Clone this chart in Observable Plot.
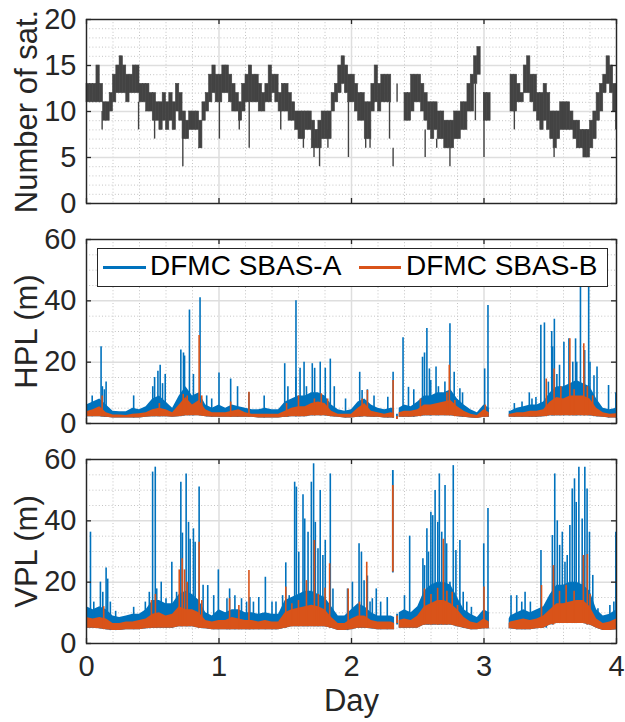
<!DOCTYPE html>
<html>
<head>
<meta charset="utf-8">
<script src="https://cdn.jsdelivr.net/npm/d3@7"></script>
<script src="https://cdn.jsdelivr.net/npm/@observablehq/plot@0.6"></script>
<style>
  body { margin: 0; background: #fff; }
  #chart { position: relative; width: 625px; height: 722px; font-family: "Liberation Sans", Arial, sans-serif; }
  #chart svg { display: block; }
  .legend { position: absolute; left: 97px; top: 248px; width: 511px; height: 39px; box-sizing: border-box;
            border: 1.5px solid #262626; background: #fff; }
  .legend .ln { position: absolute; top: 17px; height: 2.5px; }
  .legend .lt { position: absolute; top: -1px; line-height: 36px; font-size: 28px; color: #000; white-space: nowrap; }
</style>
</head>
<body>
<div id="chart"></div>
<script>
// ---------------- DATA ----------------
const xTickLabels = [0, 1, 2, 3, 4];
const satTicks = [0, 5, 10, 15, 20];
const plTicks = [0, 20, 40, 60];
const seriesNames = ["DFMC SBAS-A", "DFMC SBAS-B"];

// Number of satellites: band (low/high) per 0.025-day bin
const satBinWidth = 0.025;
const satHigh = [
  13,13,13,15,13,11,11,12,14,15,
  16,15,14,14,15,15,13,13,13,12,
  12,11,11,12,11,12,11,13,12,10,
  9,10,10,10,9,11,12,14,15,14,
  14,15,15,14,13,12,11,13,14,15,
  14,14,13,12,13,15,14,14,12,13,
  13,12,11,10,10,10,10,10,9,8,
  9,10,10,10,12,13,15,16,15,14,
  14,13,12,12,11,11,13,15,13,14,
  14,14,null,null,null,null,12,12,14,14,
  14,13,12,11,11,11,10,10,9,9,
  9,10,10,11,11,13,14,16,17,null,
  12,12,null,null,null,null,null,null,14,14,
  13,12,15,16,14,14,12,12,13,12,
  10,10,10,11,11,11,10,9,9,8,
  8,8,9,10,12,13,14,16,15,13
];
const satLow = [
  11,11,11,11,11,9,9,10,11,12,
  12,12,11,12,12,12,11,11,10,10,
  9,9,8,9,8,9,8,10,9,7,
  7,8,8,8,6,9,10,11,12,11,
  11,12,12,11,10,10,9,10,11,11,
  11,11,10,10,11,11,12,11,10,10,
  10,9,9,8,7,7,8,8,6,6,
  6,7,7,7,10,11,12,13,12,11,
  11,10,9,9,7,7,10,11,10,11,
  11,11,null,null,null,null,9,9,10,11,
  11,10,9,8,7,8,7,7,6,6,
  6,7,7,8,8,10,10,13,14,null,
  9,9,null,null,null,null,null,null,10,10,
  11,11,12,12,11,10,9,8,9,8,
  7,6,7,8,8,8,8,7,6,6,
  5,5,6,7,9,10,12,13,12,10
];
// thin excursions: [day, from, to]
const satSpikes = [
  [0.118,8,10],[0.256,14,16],[0.393,8,11],[0.514,7,9],[0.727,4,8],[0.857,6,8],
  [1.003,7,11],[1.153,8,10],[1.228,6,11],[1.466,8,10],[1.637,6,8],[1.717,5,7],
  [1.759,4,7],[1.822,6,8],[1.977,5,11],[2.107,6,8],[2.14,6,8],[2.287,7,11],
  [2.314,4,6],[2.344,11,13],[2.556,5,8],[2.643,6,7],[2.743,4,6],[2.935,9,13],
  [3.0,5,12],[3.229,8,10],[3.529,5,6],[3.995,8,10]
];

// Protection levels: dense band sampled on these days (null = data gap)
const bandDays = [
  0,0.05,0.1,0.15,0.2,0.25,0.3,0.35,0.4,0.45,
  0.5,0.55,0.6,0.65,0.7,0.75,0.8,0.85,0.9,0.95,
  1,1.05,1.1,1.15,1.2,1.25,1.3,1.35,1.4,1.45,
  1.5,1.55,1.6,1.65,1.7,1.75,1.8,1.85,1.9,1.95,
  2,2.05,2.1,2.15,2.2,2.25,2.3,2.325,2.33,2.36,
  2.4,2.45,2.5,2.55,2.6,2.65,2.7,2.75,2.8,2.85,
  2.9,2.95,3,3.04,3.045,3.19,3.2,3.25,3.3,3.35,
  3.4,3.45,3.5,3.55,3.6,3.65,3.7,3.75,3.8,3.85,
  3.9,3.95,4
];
const hplLow = [
  2.2,2.2,2.2,2.0,1.8,1.8,1.8,1.8,1.8,2.0,
  2.2,2.2,2.2,2.0,2.2,2.5,2.5,2.5,2.2,2.0,
  2.0,2.0,2.0,2.0,2.0,2.0,1.8,1.8,1.8,1.8,
  2.0,2.2,2.2,2.2,2.5,2.5,2.5,2.2,2.0,1.8,
  1.8,2.0,2.2,2.0,2.0,1.8,1.8,1.8,null,2.0,
  2.0,2.0,2.2,2.5,2.5,2.5,2.5,2.5,2.2,2.0,
  1.8,1.6,2.0,2.0,null,2.0,2.0,2.0,2.0,2.0,
  2.0,2.2,2.5,2.5,2.5,2.5,2.5,2.5,2.5,2.2,
  2.0,1.8,1.8
];
const hplHighA = [
  6,7,8,6,4,3.8,3.8,5,4.5,5.5,
  8,9,7,5,9,12,9,10,6,5,
  6,5,6,5.5,5,4.5,4.5,5,4.5,4.5,
  7,8,9,9,10,10,9,6,4.5,4,
  4.5,7,8,6,5,4.5,5,5,null,5,
  6,5.5,7,9,9,10,10,11,8,6,
  4.5,3.5,6,5,null,4,4,5,5.5,6,
  6,7,10,12,12,13,14,13,12,8,
  5,4.5,5
];
const hplHighB = [
  3.8,4.5,5.5,3.5,2.8,2.8,2.6,3,3.2,3.5,
  4.5,5,4.5,3.5,6,8.5,6,7.5,4.5,3.5,
  3.5,3.5,4,4.5,3.5,3,3,3,3,3,
  4,5,5.5,5.5,6.5,7,6.5,4,3,3,
  3,5,6.5,4,3.5,3,3.5,3.2,null,3.5,
  4,4,4.5,6,6,6.5,7,7.5,5.5,4,
  3,2.6,4.5,3.5,null,3,3,3.5,3.5,4,
  4,4.5,7,8.5,8,9,9,9,8,5,
  3.5,3,3.2
];
// spikes: [day, peak]
const hplSpikesA = [
  [0.043,9],[0.11,25],[0.12,12],[0.135,11],[0.148,13.5],[0.356,9],
  [0.5,12],[0.514,15],[0.539,17],[0.556,19],[0.574,13],[0.594,16],
  [0.712,24],[0.732,23],[0.74,22],[0.777,37],[0.807,16],[0.857,41],[0.907,9],[0.945,8],
  [1.0,16.5],[1.088,14.5],[1.14,12],[1.226,10],[1.341,9],
  [1.496,19.5],[1.52,12],[1.58,15],[1.581,40],[1.612,18],[1.642,20],[1.66,12],
  [1.704,19.5],[1.722,18],[1.764,20],[1.802,18],[1.84,21],[1.87,12],[1.955,8],
  [2.062,16.7],[2.08,10.8],[2.12,11],[2.17,9],[2.274,8.6],[2.314,16.7],
  [2.389,28],[2.43,11.8],[2.47,11],[2.536,21.6],[2.551,23],[2.569,31],[2.588,17.8],
  [2.598,14],[2.638,18.4],[2.656,12],[2.705,13.5],[2.743,32.5],[2.775,16.7],[2.818,11.3],[2.838,10],
  [3.005,17.8],[3.03,38.5],
  [3.229,6.5],[3.287,7],[3.342,10],[3.362,8],[3.392,8.5],
  [3.429,32],[3.456,32.8],[3.486,13.5],[3.511,30],[3.518,25],[3.531,34],
  [3.55,16],[3.57,19],[3.603,26.5],[3.641,27.6],[3.67,20],[3.691,27.6],[3.7,20],
  [3.728,52],[3.76,23.8],[3.79,50],[3.8,20],[3.83,15.6],[3.853,18.4],[3.94,12.4],[3.995,10]
];
const hplSpikesB = [
  [0.118,9],[0.55,6.5],[0.73,9.5],[0.76,9],[0.85,28.7],[0.87,9],[1.088,7],[1.226,10.2],
  [1.51,6.5],[1.6,9],[1.72,8],[1.772,9.7],[1.82,8],
  [2.08,8],[2.12,10.8],[2.314,14],[2.52,8],[2.72,10],[2.738,19],[2.78,7.5],[3.01,6],
  [3.47,14.5],[3.529,17.8],[3.58,12],[3.648,27.6],[3.68,11],[3.753,26],[3.78,12],[3.82,9]
];
// isolated segments: [day, from, to]
const hplIsolatedA = [[2.343,1.4,3.0]];
const hplIsolatedB = [[2.343,1.3,2.3]];

const vplLow = [
  5,5,4.8,4.5,4.2,4.2,4.5,4.5,4.5,4.8,
  5,5,5,5,5.5,5.5,5.5,5,4.8,4.5,
  4.5,4.5,4.5,4.5,4.5,4.5,4.5,4.5,4.5,4.5,
  5,5.5,5.5,5.5,5.5,5.5,5.5,5,4.2,4.2,
  4.5,5,5,4.8,4.5,4.5,4.5,4.5,null,5,
  5,5,5,6,6,6,6,6,5.5,5,
  4.5,4.5,4.8,4.8,null,4.8,4.8,4.5,4.5,4.5,
  4.8,5,6,6.5,6.5,6.5,6.5,6.5,6,5,
  4.2,4.2,4.5
];
const vplHighA = [
  12,11,12,11,9,8.5,9,9.5,9.5,11,
  14,14,13,13,16,17,16,14,10,9,
  11,10,11,11,10,10,9.5,10,9.5,9.5,
  14,15,16,17,17,16,15,12,9,9,
  11,13,12,10,9,9,9,8.5,null,10,
  11,10,12,17,19,20,20,19,15,11,
  9.5,8.5,11,10,null,8,9,10,11,10,
  11,12,16,19,19,20,20,19,17,11,
  9,9.5,11
];
const vplHighB = [
  8.5,8,8.5,8,6.5,6.5,7,7,7.5,8,
  9.5,10,9,9.5,12,11,11,10,7.5,7,
  7.5,7.5,8.5,8,7.5,7.5,7,7.5,7,7,
  10,11,11.5,12,12.5,12,11,8.5,6.5,6.5,
  8,9,9,7.5,7,7,7,6.5,null,7.5,
  8,7.5,9,12,13,14,14,13,11,8.5,
  7,6.5,8,7,null,6.5,7,7.5,8,7.5,
  8,9,11,13,13,13.5,14,14,12,8,
  6.5,7,8
];
const vplSpikesA = [
  [0.03,36.3],[0.055,13.5],[0.105,20],[0.123,16.7],[0.148,24.6],[0.16,21],[0.18,13.5],[0.22,10.5],
  [0.356,11.8],[0.444,13.5],[0.474,16.7],[0.499,55.9],[0.519,57.5],[0.53,17.8],[0.564,20],[0.6,14.6],
  [0.644,26.5],[0.68,16.7],[0.712,52.6],[0.724,36],[0.752,55.3],[0.77,39.5],[0.782,34],[0.807,37.4],
  [0.82,33],[0.85,51],[0.88,19],[0.915,18.9],[0.96,15.6],[0.995,24],
  [1.06,14.6],[1.08,17.8],[1.12,15.6],[1.17,14.6],[1.208,13.5],[1.233,15],[1.26,13.5],[1.3,15],
  [1.35,21.6],[1.4,13.5],[1.43,13.5],[1.48,15.6],[1.504,26.3],[1.53,15.6],[1.571,52.6],[1.584,51],
  [1.602,29.8],[1.634,48.5],[1.647,40.6],[1.672,36.3],[1.697,52.6],[1.714,58.6],[1.727,39.5],
  [1.747,30.9],[1.764,49.9],[1.784,28.7],[1.802,33.6],[1.84,55.3],[1.86,17.8],[1.97,17.8],
  [2.007,20],[2.057,32.5],[2.075,29.8],[2.095,20.5],[2.12,22],[2.14,13.5],[2.157,14.6],[2.187,17.8],
  [2.22,13.5],[2.27,15],[2.4,15.6],[2.439,35],[2.47,10],[2.539,27.6],[2.551,25.4],[2.569,37.4],
  [2.581,29.8],[2.599,42.8],[2.613,41.7],[2.631,49.9],[2.651,39.5],[2.663,55.3],[2.681,36.3],
  [2.706,51.5],[2.718,32.5],[2.743,20],[2.768,58],[2.788,30.3],[2.818,33.6],[2.843,16.7],[2.87,13.5],
  [2.905,11.8],[2.998,32.5],[3.03,44],
  [3.204,15.6],[3.247,15.6],[3.285,13.5],[3.31,16.7],[3.35,13.5],[3.43,30.3],[3.47,11],[3.516,35.2],
  [3.534,55.3],[3.553,40],[3.571,32],[3.591,36.3],[3.611,26.5],[3.628,28.7],[3.648,38.5],[3.666,50.4],
  [3.683,53.7],[3.696,46],[3.716,57.5],[3.741,40.6],[3.761,57.5],[3.778,50.4],[3.796,36.3],[3.821,22.2],
  [3.86,11.3],[3.95,12.4],[3.98,13.5],[3.995,36.3]
];
const vplSpikesB = [
  [0.13,12],[0.49,14],[0.52,16],[0.7,24],[0.722,27.6],[0.74,24],[0.76,20],[0.85,33],[0.87,14],
  [1.08,14.6],[1.15,12.4],[1.226,23.8],[1.504,18.4],[1.55,13],[1.6,14],[1.66,20.5],[1.72,33.6],
  [1.75,16],[1.8,18],[1.835,26],[1.975,17.8],
  [2.06,13.5],[2.115,26.5],[2.55,17.8],[2.6,16],[2.65,18],[2.693,34],[2.72,17],[2.76,16.7],[2.8,12.4],
  [3.0,18.4],[3.434,18.9],[3.524,25.4],[3.57,17],[3.62,19],[3.68,17],[3.75,28.7],[3.78,29],[3.8,16]
];
const vplIsolatedA = [[2.312,23,56.4],[2.344,6,9.5]];
const vplIsolatedB = [[2.312,23.3,51.5],[2.344,6.5,9]];

// ---------------- STYLE / LAYOUT ----------------
const BLUE = "#0072BD", ORANGE = "#D95319", SATC = "#434343", AX = "#262626";
const MAJOR = "#dedede", MINOR = "#c4c4c4";
const W = 625, ML = 86, MR = 9;
const xMinor = d3.range(21).map(i => i / 5).filter((v, i) => i % 5 !== 0);
const minorBetween = (ticks, n) => {
  const out = [];
  for (let k = 0; k < ticks.length - 1; k++) {
    const step = (ticks[k + 1] - ticks[k]) / n;
    for (let j = 1; j < n; j++) out.push(ticks[k] + j * step);
  }
  return out;
};
const intFmt = d => String(d);

const num = v => (v == null ? NaN : v);
const bandIdx = d3.range(bandDays.length);
function lowAt(lowArr, day) {
  let best = 0, bd = Infinity;
  bandDays.forEach((d, i) => { if (lowArr[i] != null && Math.abs(d - day) < bd) { bd = Math.abs(d - day); best = i; } });
  return lowArr[best];
}

function panel({height, marginTop, marginBottom, yDomain, yMajor, yMinor, marks, xLabels, yLabel}) {
  const plotH = height - marginTop - marginBottom;
  const plotW = W - ML - MR;
  return Plot.plot({
    width: W, height, marginLeft: ML, marginRight: MR, marginTop, marginBottom,
    x: {domain: [0, 4], axis: null},
    y: {domain: yDomain, axis: null},
    style: {fontFamily: '"Liberation Sans", Arial, sans-serif', background: "transparent", overflow: "visible", color: AX},
    marks: [
      Plot.gridX(xMinor, {stroke: MINOR, strokeOpacity: 1, strokeWidth: 1, strokeDasharray: "1,2.2"}),
      Plot.gridY(yMinor, {stroke: MINOR, strokeOpacity: 1, strokeWidth: 1, strokeDasharray: "1,2.2"}),
      Plot.gridX(xTickLabels, {stroke: MAJOR, strokeOpacity: 1, strokeWidth: 1.5}),
      Plot.gridY(yMajor, {stroke: MAJOR, strokeOpacity: 1, strokeWidth: 1.5}),
      ...marks,
      Plot.frame({stroke: AX, strokeWidth: 1.4}),
      Plot.tickY(yMajor, {y: d => d, stroke: AX, strokeWidth: 1.3, insetRight: plotW - 5}),
      Plot.tickY(yMajor, {y: d => d, stroke: AX, strokeWidth: 1.3, insetLeft: plotW - 5}),
      Plot.tickX(xTickLabels, {x: d => d, stroke: AX, strokeWidth: 1.3, insetTop: plotH - 5}),
      Plot.tickX(xTickLabels, {x: d => d, stroke: AX, strokeWidth: 1.3, insetBottom: plotH - 5}),
      Plot.axisY(yMajor, {tickSize: 0, tickPadding: 10, fontSize: 29, label: null, fill: AX, tickFormat: intFmt}),
      xLabels ? Plot.axisX(xTickLabels, {tickSize: 0, tickPadding: 12, fontSize: 29, label: null, fill: AX, tickFormat: intFmt}) : null,
      Plot.text([yLabel], {text: d => d, frameAnchor: "left", rotate: -90, dx: -59, fontSize: 31, fill: AX, textAnchor: "middle"}),
      xLabels ? Plot.text(["Day"], {text: d => d, frameAnchor: "bottom", dy: 67, fontSize: 31, fill: AX, textAnchor: "middle"}) : null
    ]
  });
}

// ---------------- PANELS ----------------
const satIdx = d3.range(satHigh.length).filter(i => satHigh[i] != null);
const satPlot = panel({
  height: 221, marginTop: 19, marginBottom: 18,
  yDomain: [0, 20], yMajor: satTicks, yMinor: minorBetween(satTicks, 5),
  yLabel: "Number of sat.", xLabels: false,
  marks: [
    Plot.rect(satIdx, {x1: i => i * satBinWidth, x2: i => (i + 1) * satBinWidth, y1: i => satLow[i], y2: i => satHigh[i],
      fill: SATC, stroke: SATC, strokeWidth: 0.6}),
    Plot.ruleX(satSpikes, {x: d => d[0], y1: d => d[1], y2: d => d[2], stroke: SATC, strokeWidth: 1.4})
  ]
});

function plMarks(low, hiA, hiB, spA, spB, isoA, isoB) {
  return [
    Plot.areaY(bandIdx, {x: i => bandDays[i], y1: i => num(low[i]), y2: i => num(hiA[i]), fill: BLUE}),
    Plot.ruleX(spA, {x: d => d[0], y1: d => lowAt(low, d[0]), y2: d => d[1], stroke: BLUE, strokeWidth: 1.6}),
    Plot.ruleX(isoA, {x: d => d[0], y1: d => d[1], y2: d => d[2], stroke: BLUE, strokeWidth: 1.8}),
    Plot.areaY(bandIdx, {x: i => bandDays[i], y1: i => num(low[i]), y2: i => num(hiB[i]), fill: ORANGE}),
    Plot.ruleX(spB, {x: d => d[0], y1: d => lowAt(low, d[0]), y2: d => d[1], stroke: ORANGE, strokeWidth: 1.6}),
    Plot.ruleX(isoB, {x: d => d[0], y1: d => d[1], y2: d => d[2], stroke: ORANGE, strokeWidth: 1.8})
  ];
}

const hplPlot = panel({
  height: 220, marginTop: 18, marginBottom: 18,
  yDomain: [0, 60], yMajor: plTicks, yMinor: minorBetween(plTicks, 4),
  yLabel: "HPL (m)", xLabels: false,
  marks: plMarks(hplLow, hplHighA, hplHighB, hplSpikesA, hplSpikesB, hplIsolatedA, hplIsolatedB)
});

const vplPlot = panel({
  height: 281, marginTop: 18, marginBottom: 79,
  yDomain: [0, 60], yMajor: plTicks, yMinor: minorBetween(plTicks, 4),
  yLabel: "VPL (m)", xLabels: true,
  marks: plMarks(vplLow, vplHighA, vplHighB, vplSpikesA, vplSpikesB, vplIsolatedA, vplIsolatedB)
});

const chart = document.getElementById("chart");
chart.append(satPlot, hplPlot, vplPlot);

// legend (inside HPL panel)
const lg = document.createElement("div");
lg.className = "legend";
lg.innerHTML =
  `<span class="ln" style="left:5px;width:43px;background:${BLUE}"></span>` +
  `<span class="lt" style="left:52px">${seriesNames[0]}</span>` +
  `<span class="ln" style="left:261px;width:42px;background:${ORANGE}"></span>` +
  `<span class="lt" style="left:308px">${seriesNames[1]}</span>`;
chart.append(lg);
</script>
</body>
</html>
